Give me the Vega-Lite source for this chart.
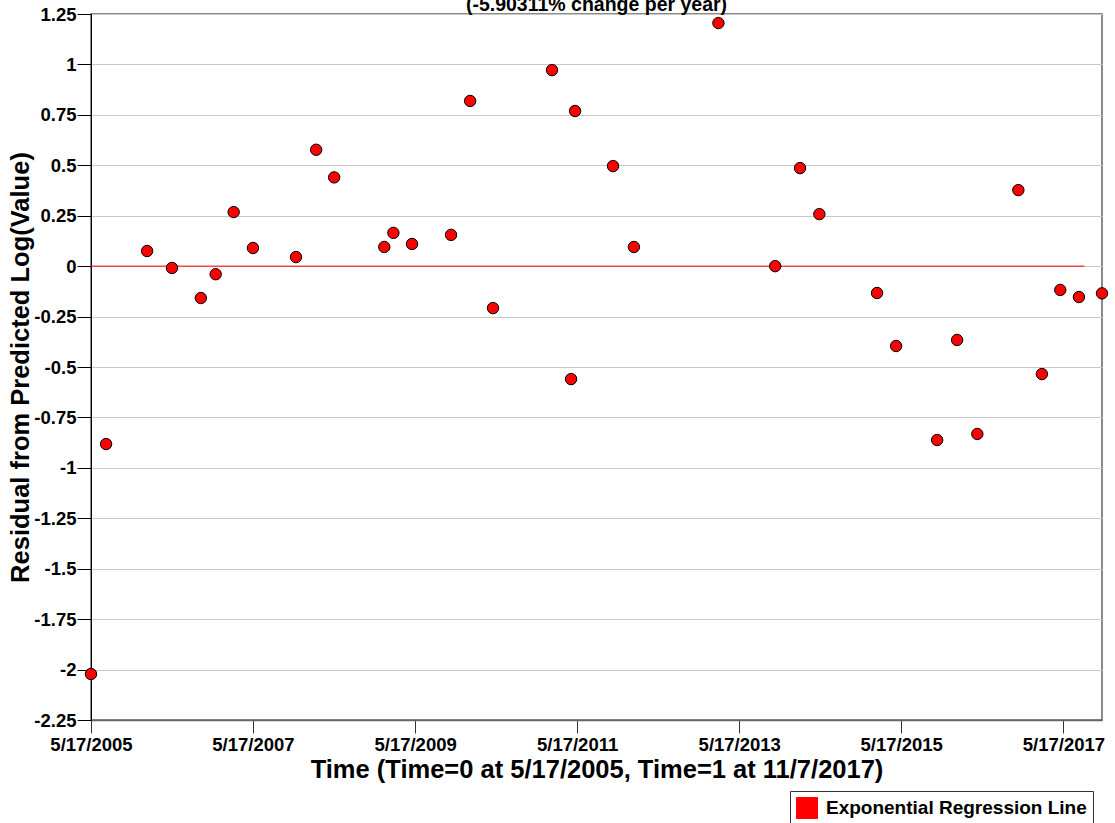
{
  "$schema": "https://vega.github.io/schema/vega-lite/v6.json",
  "width": 1011,
  "height": 706,
  "autosize": {"type": "none"},
  "padding": {"left": 91, "top": 14, "right": 13, "bottom": 103},
  "config": {
    "font": "Liberation Sans",
    "view": {"stroke": "#666666", "strokeWidth": 1.5}
  },
  "title": {
    "text": "(-5.90311% change per year)",
    "fontSize": 19.5,
    "fontWeight": "bold",
    "anchor": "middle",
    "offset": -10,
    "color": "black",
    "font": "Liberation Sans"
  },
  "datasets": {
    "points": [
      {"date": "2005-05-17T00:00:00", "value": -2.022},
      {"date": "2005-07-24T00:00:00", "value": -0.882},
      {"date": "2006-01-25T00:00:00", "value": 0.075},
      {"date": "2006-05-17T00:00:00", "value": -0.009},
      {"date": "2006-09-24T00:00:00", "value": -0.158},
      {"date": "2006-11-30T00:00:00", "value": -0.04},
      {"date": "2007-02-19T00:00:00", "value": 0.268},
      {"date": "2007-05-17T00:00:00", "value": 0.09},
      {"date": "2007-11-27T00:00:00", "value": 0.045},
      {"date": "2008-02-26T00:00:00", "value": 0.577},
      {"date": "2008-05-17T00:00:00", "value": 0.44},
      {"date": "2008-12-29T00:00:00", "value": 0.095},
      {"date": "2009-02-08T00:00:00", "value": 0.165},
      {"date": "2009-05-03T00:00:00", "value": 0.11},
      {"date": "2009-10-26T00:00:00", "value": 0.155},
      {"date": "2010-01-20T00:00:00", "value": 0.819},
      {"date": "2010-05-03T00:00:00", "value": -0.208},
      {"date": "2011-01-24T00:00:00", "value": 0.972},
      {"date": "2011-04-20T00:00:00", "value": -0.56},
      {"date": "2011-05-08T00:00:00", "value": 0.769},
      {"date": "2011-10-26T00:00:00", "value": 0.496},
      {"date": "2012-01-28T00:00:00", "value": 0.095},
      {"date": "2013-02-12T00:00:00", "value": 1.205},
      {"date": "2013-10-26T00:00:00", "value": 0.0},
      {"date": "2014-02-15T00:00:00", "value": 0.486},
      {"date": "2014-05-13T00:00:00", "value": 0.258},
      {"date": "2015-01-28T00:00:00", "value": -0.133},
      {"date": "2015-04-24T00:00:00", "value": -0.396},
      {"date": "2015-10-26T00:00:00", "value": -0.862},
      {"date": "2016-01-24T00:00:00", "value": -0.366},
      {"date": "2016-04-24T00:00:00", "value": -0.832},
      {"date": "2016-10-26T00:00:00", "value": 0.377},
      {"date": "2017-02-09T00:00:00", "value": -0.535},
      {"date": "2017-05-03T00:00:00", "value": -0.118},
      {"date": "2017-07-26T00:00:00", "value": -0.153},
      {"date": "2017-11-07T00:00:00", "value": -0.135}
    ],
    "reg": [
      {"date": "2005-05-17T00:00:00", "value": 0, "series": "Exponential Regression Line"},
      {"date": "2017-08-20T00:00:00", "value": 0, "series": "Exponential Regression Line"}
    ]
  },
  "encoding": {
    "x": {
      "field": "date",
      "type": "temporal",
      "scale": {
        "domain": [
          {"year": 2005, "month": 5, "date": 17},
          {"year": 2017, "month": 11, "date": 7}
        ]
      },
      "axis": {
        "values": [
          {"year": 2005, "month": 5, "date": 17},
          {"year": 2007, "month": 5, "date": 17},
          {"year": 2009, "month": 5, "date": 17},
          {"year": 2011, "month": 5, "date": 17},
          {"year": 2013, "month": 5, "date": 17},
          {"year": 2015, "month": 5, "date": 17},
          {"year": 2017, "month": 5, "date": 17}
        ],
        "format": "%-m/%-d/%Y",
        "title": "Time (Time=0 at 5/17/2005, Time=1 at 11/7/2017)",
        "grid": false,
        "tickSize": 13,
        "tickColor": "#333333",
        "domainColor": "#666666",
        "domainWidth": 1.5,
        "labelFontSize": 18.5,
        "labelFontWeight": "bold",
        "labelColor": "black",
        "labelPadding": 2,
        "labelFlush": false,
        "labelOverlap": false,
        "titleFontSize": 25.5,
        "titleFontWeight": "bold",
        "titleColor": "black",
        "titlePadding": 4
      }
    },
    "y": {
      "field": "value",
      "type": "quantitative",
      "scale": {"domain": [-2.25, 1.25], "nice": false, "zero": false},
      "axis": {
        "values": [-2.25, -2, -1.75, -1.5, -1.25, -1, -0.75, -0.5, -0.25, 0, 0.25, 0.5, 0.75, 1, 1.25],
        "labelExpr": "'' + datum.value",
        "title": "Residual from Predicted Log(Value)",
        "grid": true,
        "gridColor": "#c8c8c8",
        "gridWidth": 1,
        "tickSize": 14,
        "tickColor": "black",
        "domainColor": "black",
        "labelFontSize": 18.5,
        "labelFontWeight": "bold",
        "labelColor": "black",
        "labelPadding": 1,
        "labelFlush": false,
        "labelOverlap": false,
        "titleFontSize": 25.5,
        "titleFontWeight": "bold",
        "titleColor": "black",
        "titlePadding": 0
      }
    }
  },
  "layer": [
    {
      "data": {"name": "reg"},
      "mark": {"type": "line", "strokeWidth": 1},
      "encoding": {
        "color": {
          "field": "series",
          "type": "nominal",
          "scale": {"domain": ["Exponential Regression Line"], "range": ["red"]},
          "legend": {
            "orient": "none",
            "legendX": 699,
            "legendY": 777,
            "title": null,
            "symbolType": "square",
            "symbolSize": 441,
            "symbolFillColor": "red",
            "symbolStrokeColor": "black",
            "symbolStrokeWidth": 1,
            "labelFontSize": 19,
            "labelFontWeight": "bold",
            "labelColor": "black",
            "labelFont": "Liberation Sans",
            "labelLimit": 500,
            "labelOffset": 8,
            "strokeColor": "#333333",
            "fillColor": "white",
            "padding": 6,
            "encode": {
              "symbols": {"update": {"fill": {"value": "red"}, "stroke": {"value": "black"}, "strokeWidth": {"value": 1}}}
            }
          }
        }
      }
    },
    {
      "data": {"name": "points"},
      "mark": {
        "type": "point",
        "shape": "circle",
        "filled": true,
        "fill": "red",
        "stroke": "black",
        "strokeWidth": 1,
        "size": 130,
        "opacity": 1
      }
    }
  ]
}
